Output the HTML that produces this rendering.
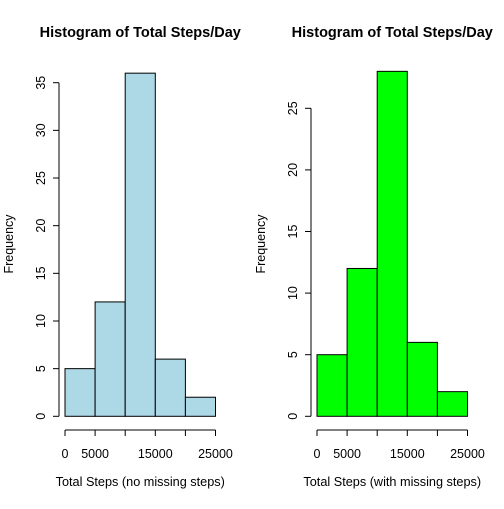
<!DOCTYPE html>
<html><head><meta charset="utf-8"><style>
html,body{margin:0;padding:0;background:#fff}
svg text{font-family:"Liberation Sans",sans-serif;fill:#000}
</style></head><body>
<svg id="c" width="504" height="504"></svg>
<script>
const breaks=[0,5000,10000,15000,20000,25000];
const countsLeft=[5,12,36,6,2];
const countsRight=[5,12,28,6,2];
const yTicksLeft=[0,5,10,15,20,25,30,35];
const yTicksRight=[0,5,10,15,20,25];
const xTicks=[0,5000,10000,15000,20000,25000];
const xLabels=["0","5000","","15000","","25000"];
const NS="http://www.w3.org/2000/svg";
const svg=document.getElementById('c');
function el(t,a,p){const e=document.createElementNS(NS,t);for(const k in a)e.setAttribute(k,a[k]);(p||svg).appendChild(e);return e;}
function panel(o){
  const g=el('g',{});
  
  
  const x=v=>o.x0+(v-breaks[0])/(breaks[breaks.length-1]-breaks[0])*(o.x1-o.x0);
  const y=v=>o.y0-v*o.yScale;
  o.counts.forEach((c,i)=>{
    const r=el('rect',{x:x(breaks[i]),y:y(c),width:x(breaks[i+1])-x(breaks[i]),height:y(0)-y(c),fill:o.fill,stroke:'#000','stroke-width':1},g);
    
    
  });
  const ya=el('g',{},g);
  
  
  el('line',{x1:o.ax,x2:o.ax,y1:y(o.yTicks[0]),y2:y(o.yTicks[o.yTicks.length-1]),stroke:'#000'},ya);
  o.yTicks.forEach(t=>{
    el('line',{x1:o.ax-6,x2:o.ax,y1:y(t),y2:y(t),stroke:'#000'},ya);
    const tx=el('text',{x:o.ax-14,y:y(t),'font-size':12.5,'text-anchor':'middle',transform:`rotate(-90 ${o.ax-14} ${y(t)})`},ya);
    tx.textContent=t;
  });
  const xa=el('g',{},g);
  
  
  el('line',{x1:x(xTicks[0]),x2:x(xTicks[xTicks.length-1]),y1:430,y2:430,stroke:'#000'},xa);
  xTicks.forEach((t,i)=>{
    el('line',{x1:x(t),x2:x(t),y1:430,y2:436,stroke:'#000'},xa);
    const tx=el('text',{x:x(t),y:458,'font-size':12.5,'text-anchor':'middle'},xa);
    tx.textContent=xLabels[i];
  });
  const tt=el('text',{x:(o.x0+o.x1)/2,y:37,'font-size':14.5,'font-weight':'bold','text-anchor':'middle'},g);
  
  
  tt.textContent='Histogram of Total Steps/Day';
  const xt=el('text',{x:(o.x0+o.x1)/2,y:486,'font-size':12.7,'text-anchor':'middle'},g);
  
  
  xt.textContent=o.xTitle;
  const yt=el('text',{x:o.ax-46,y:244,'font-size':12.5,'text-anchor':'middle',transform:`rotate(-90 ${o.ax-46} 244)`},g);
  
  
  yt.textContent='Frequency';
}
panel({name:'left-histogram',x0:65,x1:215.5,y0:416.3,yScale:(416.3-82.7)/35,ax:59,counts:countsLeft,yTicks:yTicksLeft,fill:'#add8e6',xTitle:'Total Steps (no missing steps)'});
panel({name:'right-histogram',x0:317,x1:467.5,y0:416.3,yScale:(416.3-108.3)/25,ax:311,counts:countsRight,yTicks:yTicksRight,fill:'#00ff00',xTitle:'Total Steps (with missing steps)'});
</script>
</body></html>
